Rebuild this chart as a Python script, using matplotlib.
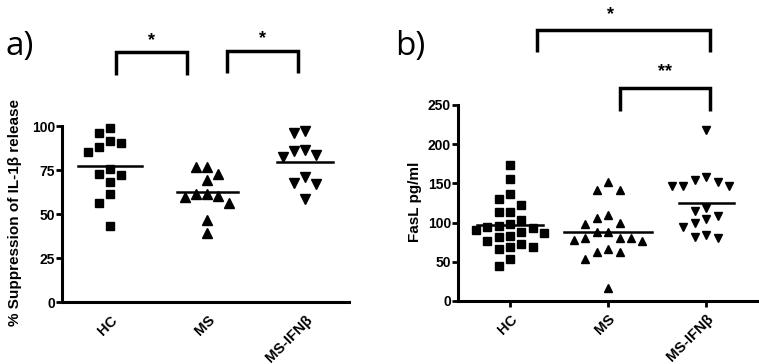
import numpy as np
import matplotlib
matplotlib.use('Agg')
import matplotlib.pyplot as plt

plt.rcParams['font.family'] = ['Liberation Sans', 'DejaVu Sans']
plt.rcParams['font.weight'] = 'bold'

groups = ['HC', 'MS', 'MS-IFNβ']

# a) % suppression of IL-1beta release
a_hc = [98.7, 95.8, 91.5, 90.1, 88.0, 85.4, 75.3, 73.0, 72.1, 68.3, 61.3, 56.0, 43.1]
a_ms = [76.9, 76.9, 73.0, 69.6, 61.1, 61.1, 60.2, 59.8, 56.0, 46.5, 39.3]
a_ifn = [97.2, 95.8, 86.3, 85.8, 83.5, 82.5, 70.8, 67.7, 67.0, 58.8]
a_center = [77.4, 62.5, 79.3]

# b) FasL pg/ml
b_hc = [174, 155, 136, 130, 123, 114, 114, 103, 98, 96, 95, 93, 91, 88, 87,
        83, 82, 77, 73, 69, 69, 66, 54, 45]
b_ms = [152, 142, 142, 110, 106, 99, 98, 88, 88, 80, 80, 80, 78, 76,
        66, 62, 62, 53, 16]
b_ifn = [218, 158, 154, 152, 147, 147, 147, 118, 115, 108, 104, 99, 95, 84, 82, 80]
b_center = [97, 88, 125]


def swarm(vals, gap, step):
    # simple column layout: spread points that sit too close vertically
    placed = []
    offs = []
    for v in vals:
        for k in [0, -1, 1, -2, 2, -3, 3, -4, 4]:
            if all(abs(v - pv) >= gap or pk != k for pv, pk in placed):
                break
        placed.append((v, k))
        offs.append(k * step)
    return np.array(offs)


def bracket(ax, x0, x1, ytop, ybot, lw=2.5):
    ax.plot([x0, x0, x1, x1], [ybot, ytop, ytop, ybot], color='black', lw=lw,
            clip_on=False, solid_joinstyle='miter', solid_capstyle='butt')


fig = plt.figure(figsize=(7.59, 3.64), dpi=100)

# ---------------- panel a
ax1 = fig.add_axes([0.0817, 0.1703, 0.378, 0.4835])
markers = ['s', '^', 'v']
sizes_a = [6.0, 6.8, 6.8]
for i, vals in enumerate([a_hc, a_ms, a_ifn]):
    x = i + swarm(vals, 6.5, 0.113)
    ax1.plot(x, vals, linestyle='none', marker=markers[i], ms=sizes_a[i],
             color='black', clip_on=False)
half_a = [0.33, 0.31, 0.29]
for i, c in enumerate(a_center):
    ax1.plot([i - half_a[i], i + half_a[i]], [c, c], color='black', lw=1.8)

ax1.set_xlim(-0.492, 2.452)
ax1.set_ylim(0, 100)
ax1.set_yticks([0, 25, 50, 75, 100])
ax1.set_xticks([0, 1, 2])
ax1.set_xticklabels(groups, rotation=45, ha='right', rotation_mode='anchor',
                    fontweight='bold', fontsize=10.5)
ax1.set_yticklabels(['0', '25', '50', '75', '100'], fontweight='bold', fontsize=10)
ax1.tick_params(axis='x', length=0, pad=8)
ax1.tick_params(axis='y', length=4, width=2, pad=1)
for s in ['top', 'right']:
    ax1.spines[s].set_visible(False)
for s in ['left', 'bottom']:
    ax1.spines[s].set_linewidth(2.2)

bracket(ax1, 0.06, 0.79, 142, 129)
bracket(ax1, 1.20, 1.93, 142.5, 130)
ax1.text(0.425, 146, '*', ha='center', va='baseline', fontsize=13, clip_on=False)
ax1.text(1.565, 147, '*', ha='center', va='baseline', fontsize=13, clip_on=False)

# ---------------- panel b
ax2 = fig.add_axes([0.6034, 0.1731, 0.3953, 0.5385])
sizes_b = [5.6, 6.2, 6.2]
for i, vals in enumerate([b_hc, b_ms, b_ifn]):
    x = i + swarm(vals, 14.0, 0.117)
    ax2.plot(x, vals, linestyle='none', marker=markers[i], ms=sizes_b[i],
             color='black', clip_on=False)
half_b = [0.34, 0.45, 0.28]
for i, c in enumerate(b_center):
    ax2.plot([i - half_b[i], i + half_b[i]], [c, c], color='black', lw=1.8)

ax2.set_xlim(-0.531, 2.530)
ax2.set_ylim(0, 250)
ax2.set_yticks([0, 50, 100, 150, 200, 250])
ax2.set_xticks([0, 1, 2])
ax2.set_xticklabels(groups, rotation=45, ha='right', rotation_mode='anchor',
                    fontweight='bold', fontsize=10.5)
ax2.set_yticklabels(['0', '50', '100', '150', '200', '250'], fontweight='bold',
                    fontsize=10)
ax2.tick_params(axis='x', length=4, width=2, pad=4)
ax2.tick_params(axis='y', length=4, width=2, pad=1)
for s in ['top', 'right']:
    ax2.spines[s].set_visible(False)
for s in ['left', 'bottom']:
    ax2.spines[s].set_linewidth(2.2)

bracket(ax2, 0.276, 2.04, 345.7, 317.6)
bracket(ax2, 1.12, 2.04, 271.7, 242.3)
ax2.text(1.03, 360, '*', ha='center', va='baseline', fontsize=13, clip_on=False)
ax2.text(1.58, 287, '**', ha='center', va='baseline', fontsize=13, clip_on=False)

# labels
fig.text(0.0198, 0.416, '% Suppression of IL-1β release', rotation=90,
         ha='center', va='center', fontsize=11, fontweight='bold')
fig.text(0.547, 0.445, 'FasL pg/ml', rotation=90, ha='center', va='center',
         fontsize=11, fontweight='bold')
fig.text(20 / 759, 1 - 46 / 364, 'a)', ha='center', va='center', fontsize=24,
         fontweight='normal', family=['Open Sans', 'DejaVu Sans'])
fig.text(410 / 759, 1 - 46 / 364, 'b)', ha='center', va='center', fontsize=24,
         fontweight='normal', family=['Open Sans', 'DejaVu Sans'])

fig.savefig('out.png', dpi=100)
